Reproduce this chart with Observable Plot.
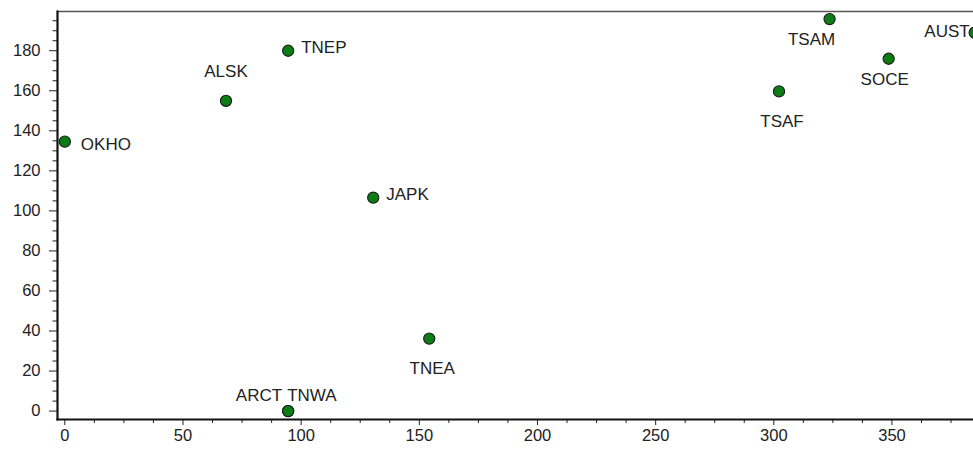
<!DOCTYPE html>
<html><head><meta charset="utf-8">
<script src="https://cdn.jsdelivr.net/npm/d3@7"></script>
<script src="https://cdn.jsdelivr.net/npm/@observablehq/plot@0.6"></script>
<style>body{margin:0;background:#fff} svg{display:block}</style>
</head><body><div id="chart"></div>
<script>
const regions = ["OKHO","ALSK","TNEP","JAPK","TNEA","ARCT","TNWA","TSAF","TSAM","SOCE","AUST"];
const xValues = [0, 68.2, 94.5, 130.5, 154.2, 94.5, 94.5, 302.2, 323.6, 348.6, 385];
const yValues = [134.6, 155, 180, 106.6, 36.2, 0, 0, 159.7, 195.8, 176, 189];
const labelPlacement = ["rightLow","above","right","right","below","aboveEnd","aboveStart","below","belowLeft","belowNear","left"];
const xMajorTicks = [0, 50, 100, 150, 200, 250, 300, 350];
const xMinorTicks = [12.5, 25, 37.5, 62.5, 75, 87.5, 112.5, 125, 137.5, 162.5, 175, 187.5, 212.5, 225, 237.5, 262.5, 275, 287.5, 312.5, 325, 337.5, 362.5, 375];
const yMajorTicks = [0, 20, 40, 60, 80, 100, 120, 140, 160, 180];
const yMinorTicks = [5, 10, 15, 25, 30, 35, 45, 50, 55, 65, 70, 75, 85, 90, 95, 105, 110, 115, 125, 130, 135, 145, 150, 155, 165, 170, 175, 185, 190, 195];

const data = regions.map((name, i) => ({name, x: xValues[i], y: yValues[i], place: labelPlacement[i]}));

const font = "'Liberation Sans', Arial, Helvetica, sans-serif";
const placements = {
  right:      {textAnchor: "start",  dx: 13,  dy: -3},
  rightLow:   {textAnchor: "start",  dx: 16,  dy: 3},
  left:       {textAnchor: "end",    dx: -5,  dy: -1},
  above:      {textAnchor: "middle", dx: 0,   dy: -29},
  below:      {textAnchor: "middle", dx: 3,   dy: 30},
  belowNear:  {textAnchor: "middle", dx: -4,  dy: 21},
  belowLeft:  {textAnchor: "middle", dx: -18, dy: 20},
  aboveEnd:   {textAnchor: "end",    dx: -6,  dy: -16},
  aboveStart: {textAnchor: "start",  dx: -1,  dy: -16}
};
const labelMarks = Object.entries(placements).map(([key, opt]) =>
  Plot.text(data.filter(d => d.place === key), {
    x: "x", y: "y", text: "name", ...opt,
    fontSize: 17, fill: "#222", fontFamily: font
  })
);

const chart = Plot.plot({
  width: 973,
  height: 453,
  marginLeft: 57,
  marginRight: 0,
  marginTop: 11,
  marginBottom: 34,
  style: {fontFamily: font, background: "#fff", overflow: "hidden"},
  x: {domain: [-3.1, 384.5], label: null},
  y: {domain: [-4.2, 199.6], label: null},
  marks: [
    Plot.axisY({ticks: yMinorTicks, tickSize: 4.5, text: null, label: null, stroke: "#222", strokeWidth: 1}),
    Plot.axisY({ticks: yMajorTicks, tickSize: 8, tickPadding: 9, label: null, fontSize: 16.5, fill: "#222", stroke: "#222", strokeWidth: 1}),
    Plot.axisX({ticks: xMinorTicks, tickSize: 4, text: null, label: null, stroke: "#222", strokeWidth: 1}),
    Plot.axisX({ticks: xMajorTicks, tickSize: 6, tickPadding: 4, label: null, fontSize: 16.5, fill: "#222", stroke: "#222", strokeWidth: 1}),
    Plot.frame({anchor: "top", stroke: "#555", strokeWidth: 1.6}),
    Plot.frame({anchor: "left", stroke: "#111", strokeWidth: 2.2}),
    Plot.frame({anchor: "bottom", stroke: "#111", strokeWidth: 2.2}),
    Plot.dot(data, {x: "x", y: "y", r: 5.6, fill: "#0b7d14", stroke: "#1a1a1a", strokeWidth: 1.1}),
    ...labelMarks
  ]
});
document.getElementById("chart").appendChild(chart);
</script>
</body></html>
